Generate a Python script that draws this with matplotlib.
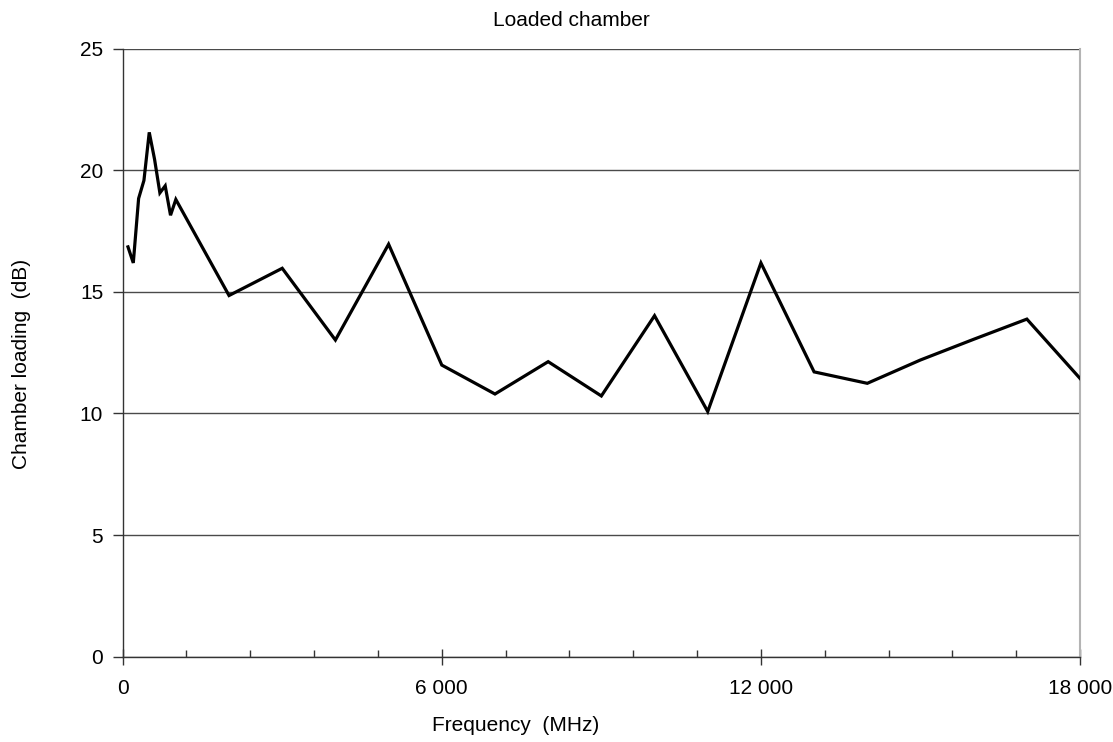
#!/usr/bin/env python3

import matplotlib
matplotlib.use('Agg')
import matplotlib.pyplot as plt
from matplotlib.ticker import MultipleLocator, FuncFormatter

# measured chamber loading vs frequency
freq_mhz = [100, 200, 300, 400, 500, 600, 700, 800, 900, 1000,
            2000, 3000, 4000, 5000, 6000, 7000, 8000, 9000, 10000,
            11000, 12000, 13000, 14000, 15000, 16000, 17000, 18000]
loading_db = [16.85, 16.19, 18.84, 19.58, 21.56, 20.45, 19.07, 19.36, 18.15, 18.8,
              14.85, 15.97, 13.02, 16.96, 11.99, 10.8, 12.13, 10.72, 14.02,
              10.08, 16.19, 11.71, 11.24, 12.2, 13.05, 13.88, 11.44]

title = 'Loaded chamber'
xlabel = 'Frequency  (MHz)'
ylabel = 'Chamber loading  (dB)'


def thousands(x, pos):
  return '{:,}'.format(int(x)).replace(',', ' ')


def main():
  plt.rcParams['font.family'] = ['Liberation Sans', 'DejaVu Sans']

  fig = plt.figure(figsize=(11.13, 7.42), dpi=100)
  ax = fig.add_axes([0.1102, 0.115, 0.8602, 0.8194])

  ax.plot(freq_mhz, loading_db, color='black', linewidth=2.3,
          solid_joinstyle='miter', zorder=3)

  ax.set_xlim(0, 18000)
  ax.set_ylim(0, 25)

  # horizontal grid only
  ax.yaxis.set_major_locator(MultipleLocator(5))
  ax.grid(axis='y', color='#4a4a4a', linewidth=1.0)
  ax.set_axisbelow(True)

  ax.xaxis.set_major_locator(MultipleLocator(6000))
  ax.xaxis.set_minor_locator(MultipleLocator(1200))
  ax.xaxis.set_major_formatter(FuncFormatter(thousands))

  ax.tick_params(axis='x', which='major', direction='inout', length=11.5,
                 width=1.0, color='#333333', labelsize=15, pad=10)
  ax.tick_params(axis='x', which='minor', direction='in', length=5,
                 width=1.0, color='#333333')
  ax.tick_params(axis='y', which='major', direction='out', length=7,
                 width=1.0, color='#333333', labelsize=15, pad=7)

  for side in ['left', 'bottom']:
    ax.spines[side].set_color('#333333')
    ax.spines[side].set_linewidth(1.0)
  ax.spines['top'].set_visible(False)
  ax.spines['right'].set_color('#b4b4b4')
  ax.spines['right'].set_linewidth(1.5)

  fig.text(0.513, 0.973, title, ha='center', va='center', fontsize=15)
  fig.text(0.463, 0.022, xlabel, ha='center', va='center', fontsize=15)
  fig.text(0.019, 0.51, ylabel, ha='center', va='center', fontsize=15,
           rotation=90)

  fig.savefig('out.png', dpi=100)


if __name__ == '__main__':
  main()
